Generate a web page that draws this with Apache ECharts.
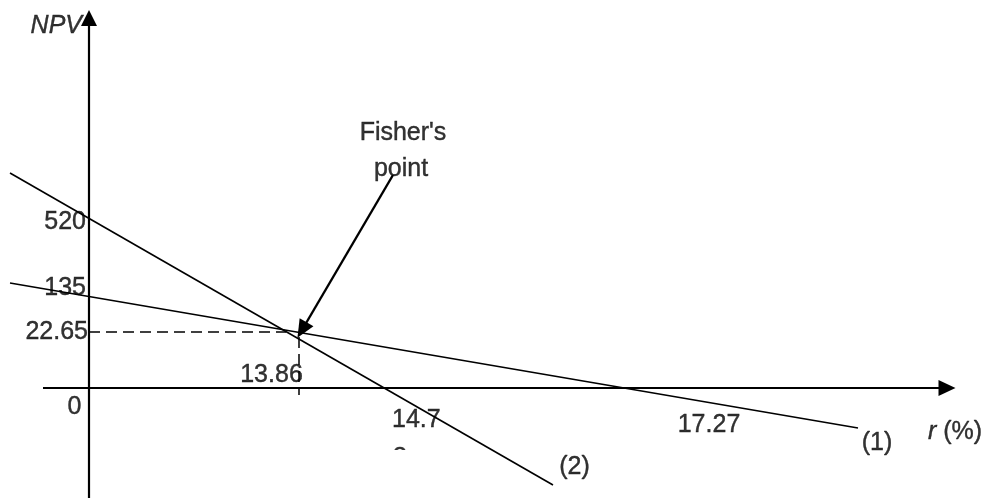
<!DOCTYPE html>
<html>
<head>
<meta charset="utf-8">
<script src="https://cdn.jsdelivr.net/npm/echarts@6/dist/echarts.min.js"></script>
<style>
  html, body { margin: 0; padding: 0; background: #fff; }
  #chart { width: 984px; height: 498px; }
</style>
</head>
<body>
<div id="chart"></div>
<script>
// Schematic diagram units: origin where the r axis meets the NPV axis.
// NPV profile of project (1) and project (2), drawn as straight lines.
const line1 = [[-79, 105], [769, -40]];
const line2 = [[-79, 215], [464, -97]];
const seriesNames = ['(1)', '(2)'];

// Tick labels on the NPV axis and the r axis
const npvTicks = ['520', '135', '22.65', '0'];
const rTicks = ['13.86', '14.7', '17.27'];
const axisNames = ['NPV', 'r (%)'];
const fisherText = ["Fisher's", 'point'];

// Fisher's point guide values
const fisherR = 210;     // schematic position of r = 13.86
const fisherNPV = 56;    // schematic position of NPV = 22.65

const FONT = "'Liberation Sans', Arial, sans-serif";
const FS = 25;

function lbl(x, y, text, align, extra) {
  return {
    value: [x, y],
    label: Object.assign({
      show: true,
      position: 'inside',
      formatter: text,
      align: align || 'center',
      verticalAlign: 'middle',
      color: '#000',
      fontFamily: FONT,
      fontSize: FS,
      textBorderColor: '#000',
      textBorderWidth: 0.4
    }, extra || {})
  };
}

const richItalic = { i: { fontStyle: 'italic', fontFamily: FONT, fontSize: FS, color: '#000', textBorderColor: '#000', textBorderWidth: 0.4 } };

const labelData = [
  lbl(-7, 362, axisNames[0], 'right', { fontStyle: 'italic' }),
  lbl(-3, 166, npvTicks[0], 'right'),
  lbl(-3, 100, npvTicks[1], 'right'),
  lbl(-1, fisherNPV, npvTicks[2], 'right'),
  lbl(-14.5, -19, npvTicks[3], 'center'),
  lbl(182.5, 13, rTicks[0], 'center'),
  lbl(303, -32, rTicks[1], 'left'),
  lbl(304, -70, '8', 'left'),
  lbl(620, -37, rTicks[2], 'center'),
  lbl(788, -55, seriesNames[0], 'center'),
  lbl(485.5, -79, seriesNames[1], 'center'),
  lbl(839, -44, '{i|r} (%)', 'left', { rich: richItalic }),
  lbl(314, 255, fisherText[0], 'center'),
  lbl(312, 219, fisherText[1], 'center')
];

const chart = echarts.init(document.getElementById('chart'), null, { renderer: 'canvas' });
chart.setOption({
  animation: false,
  backgroundColor: '#fff',
  grid: { left: 0, right: 0, top: 0, bottom: 0 },
  xAxis: { type: 'value', min: -89, max: 895, show: false },
  yAxis: { type: 'value', min: -110, max: 388, show: false },
  series: [
    {
      name: seriesNames[0], type: 'line', data: line1, symbol: 'none', silent: true,
      lineStyle: { color: '#000', width: 1.6 }, z: 3
    },
    {
      name: seriesNames[1], type: 'line', data: line2, symbol: 'none', silent: true,
      lineStyle: { color: '#000', width: 1.6 }, z: 3
    },
    {
      // axes with arrowheads
      type: 'line', data: [], silent: true,
      markLine: {
        silent: true, animation: false,
        symbol: ['none', 'triangle'],
        label: { show: false },
        lineStyle: { color: '#000', width: 2.2, type: 'solid' },
        emphasis: { disabled: true },
        data: [
          [{ coord: [-46, 0], symbolSize: [16, 17] }, { coord: [858, 0], symbolSize: [16, 17] }],
          [{ coord: [0, -110], symbolSize: [16, 16] }, { coord: [0, 370], symbolSize: [16, 16] }]
        ]
      }
    },
    {
      // dashed guides to Fisher's point
      type: 'line', data: [], silent: true,
      markLine: {
        silent: true, animation: false,
        symbol: ['none', 'none'],
        label: { show: false },
        lineStyle: { color: '#000', width: 1.5, type: [11, 6] },
        emphasis: { disabled: true },
        data: [
          [{ coord: [0, fisherNPV] }, { coord: [197, fisherNPV] }],
          [{ coord: [fisherR, 51] }, { coord: [fisherR, -7] }]
        ]
      }
    },
    {
      // arrow pointing at Fisher's point
      type: 'line', data: [], silent: true,
      markLine: {
        silent: true, animation: false,
        symbol: ['none', 'triangle'],
        symbolSize: [16, 18],
        label: { show: false },
        lineStyle: { color: '#000', width: 2.4, type: 'solid' },
        emphasis: { disabled: true },
        data: [
          [{ coord: [304, 213] }, { coord: [213, 58] }]
        ]
      }
    },
    {
      type: 'scatter', data: labelData, symbolSize: 0, silent: true, z: 4
    }
  ],
  graphic: [
    { type: 'rect', z: 100, shape: { x: 385, y: 450, width: 30, height: 22 }, style: { fill: '#fff' } }
  ]
});
</script>
</body>
</html>
